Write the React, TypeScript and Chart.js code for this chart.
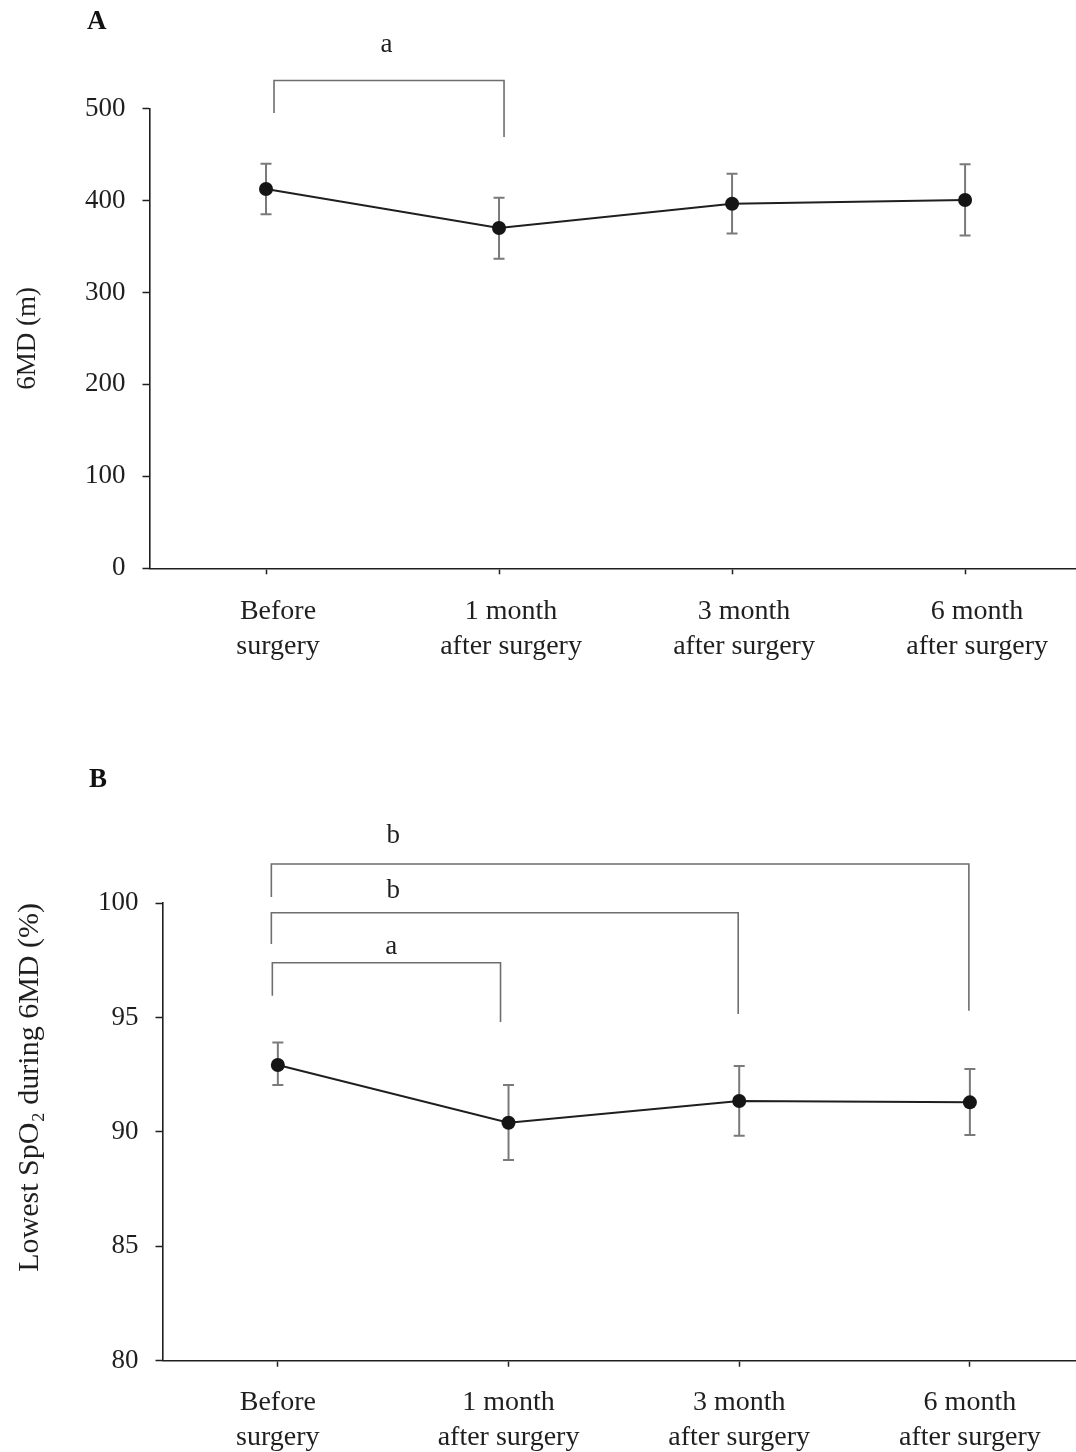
import React, { useEffect, useRef } from 'react';
import { Chart, registerables } from 'chart.js';

Chart.register(...registerables);

// ---------- data ----------
const categories: string[][] = [
  ['Before', 'surgery'],
  ['1 month', 'after surgery'],
  ['3 month', 'after surgery'],
  ['6 month', 'after surgery'],
];

const walkMean = [412.5, 370, 396.5, 400.5];
const walkUpper = [440, 403, 429, 439.5];
const walkLower = [385, 336.5, 364, 362];
const walkTicks = [0, 100, 200, 300, 400, 500];

const spo2Mean = [92.92, 90.4, 91.35, 91.29];
const spo2Upper = [93.9, 92.05, 92.88, 92.75];
const spo2Lower = [92.05, 88.77, 89.83, 89.86];
const spo2Ticks = [80, 85, 90, 95, 100];

const walkBrackets = [{ from: 0, to: 1, label: 'a' }];
const spo2Brackets = [
  { from: 0, to: 3, label: 'b' },
  { from: 0, to: 2, label: 'b' },
  { from: 0, to: 1, label: 'a' },
];

const FONT = "'Liberation Serif', 'Times New Roman', serif";
const INK = '#1f1f1f';
const GREY = '#7a7a7a';

// ---------- plugin: error bars, brackets, panel letter ----------
const annotPlugin = {
  id: 'annot',
  beforeDatasetsDraw(chart: any, _args: any, opts: any) {
    const { ctx, scales } = chart;
    const x = scales.x, y = scales.y;
    const cap = 5.5;
    ctx.save();
    ctx.strokeStyle = GREY;
    ctx.lineWidth = 2;
    (opts.upper as number[]).forEach((u, i) => {
      const px = x.getPixelForValue(i);
      const yt = y.getPixelForValue(u);
      const yb = y.getPixelForValue(opts.lower[i]);
      ctx.beginPath();
      ctx.moveTo(px, yt); ctx.lineTo(px, yb);
      ctx.moveTo(px - cap, yt); ctx.lineTo(px + cap, yt);
      ctx.moveTo(px - cap, yb); ctx.lineTo(px + cap, yb);
      ctx.stroke();
    });
    ctx.restore();
  },
  afterDraw(chart: any, _args: any, opts: any) {
    const { ctx, scales, chartArea } = chart;
    const x = scales.x;
    const top = chartArea.top;
    ctx.save();
    // brackets
    (opts.brackets as any[]).forEach((b, i) => {
      const L = opts.layout[i];
      const xl = x.getPixelForValue(b.from) + L.dxL;
      const xr = x.getPixelForValue(b.to) + L.dxR;
      const yb = top + L.bar;
      ctx.strokeStyle = '#6e6e6e';
      ctx.lineWidth = 1.6;
      ctx.beginPath();
      ctx.moveTo(xl, top + L.leftEnd);
      ctx.lineTo(xl, yb);
      ctx.lineTo(xr, yb);
      ctx.lineTo(xr, top + L.rightEnd);
      ctx.stroke();
      ctx.fillStyle = INK;
      ctx.font = `27px ${FONT}`;
      ctx.textAlign = 'center';
      ctx.textBaseline = 'middle';
      ctx.fillText(b.label, x.getPixelForValue(0.5) + L.labelDx, top + L.labelY);
    });
    // panel letter
    ctx.fillStyle = '#111';
    ctx.font = `bold 27px ${FONT}`;
    ctx.textAlign = 'left';
    ctx.textBaseline = 'middle';
    ctx.fillText(opts.letter, opts.letterX, opts.letterY);
    ctx.restore();
  },
};

function makeConfig(p: {
  mean: number[]; upper: number[]; lower: number[]; ticks: number[];
  brackets: any[]; layout: any[]; letter: string; letterX: number; letterY: number;
  title: string; titleAlign: string; titleSize: number; axisWidth: number; xMax: number;
  top: number; xHeight: number; labelOffset: number; labelPad: number;
}) {
  return {
    type: 'line',
    data: {
      datasets: [
        {
          data: p.mean.map((v, i) => ({ x: i, y: v })),
          borderColor: INK,
          borderWidth: 2,
          pointRadius: 7,
          pointBackgroundColor: '#151515',
          pointBorderWidth: 0,
          tension: 0,
        },
      ],
    },
    options: {
      responsive: false,
      animation: false,
      layout: { autoPadding: false, padding: { top: p.top, left: 0, right: 0, bottom: 0 } },
      plugins: {
        legend: { display: false },
        tooltip: { enabled: false },
        annot: {
          upper: p.upper, lower: p.lower, brackets: p.brackets, layout: p.layout,
          letter: p.letter, letterX: p.letterX, letterY: p.letterY,
        },
      },
      scales: {
        x: {
          type: 'linear',
          min: -0.5,
          max: p.xMax,
          afterBuildTicks: (s: any) => { s.ticks = categories.map((_, i) => ({ value: i })); },
          afterFit: (s: any) => { s.height = p.xHeight; },
          grid: { drawOnChartArea: false, drawTicks: true, tickLength: 6, tickColor: INK, tickWidth: 1.5 },
          border: { display: true, color: INK, width: 1.6 },
          ticks: {
            autoSkip: false, maxRotation: 0, minRotation: 0,
            padding: p.labelPad, labelOffset: p.labelOffset,
            color: INK,
            font: { family: FONT, size: 28, lineHeight: 1.25 },
            callback: (v: any) => categories[Math.round(v)],
          },
        },
        y: {
          type: 'linear',
          min: p.ticks[0],
          max: p.ticks[p.ticks.length - 1],
          afterBuildTicks: (s: any) => { s.ticks = p.ticks.map((v) => ({ value: v })); },
          afterFit: (s: any) => { s.width = p.axisWidth; },
          grid: { drawOnChartArea: false, drawTicks: true, tickLength: 7, tickColor: INK, tickWidth: 1.5 },
          border: { display: true, color: INK, width: 1.6 },
          ticks: {
            padding: 17, color: INK,
            font: { family: FONT, size: 27 },
          },
          title: {
            display: true, text: p.title, align: p.titleAlign, color: INK,
            font: { family: FONT, size: p.titleSize },
            padding: { top: 12, bottom: 0 },
          },
        },
      },
    },
    plugins: [annotPlugin],
  } as any;
}

function Panel({ config }: { config: any }) {
  const ref = useRef<HTMLCanvasElement | null>(null);
  useEffect(() => {
    if (!ref.current) return;
    const chart = new Chart(ref.current, config);
    return () => chart.destroy();
  }, [config]);
  return <canvas ref={ref} width={1076} height={726} style={{ display: 'block', width: 1076, height: 726 }} />;
}

const configA = makeConfig({
  mean: walkMean, upper: walkUpper, lower: walkLower, ticks: walkTicks,
  brackets: walkBrackets,
  layout: [{ bar: -28, leftEnd: 4.5, rightEnd: 28.5, dxL: 8, dxR: 5, labelY: -63.5, labelDx: 4 }],
  letter: 'A', letterX: 87, letterY: 22,
  title: '6MD (m)', titleAlign: 'center', titleSize: 27, axisWidth: 149.5, xMax: 3.476,
  top: 108.5, xHeight: 726 - 568.3, labelOffset: 12, labelPad: 20,
});

const configB = makeConfig({
  mean: spo2Mean, upper: spo2Upper, lower: spo2Lower, ticks: spo2Ticks,
  brackets: spo2Brackets,
  layout: [
    { bar: -39, leftEnd: -6, rightEnd: 107.7, dxL: -6.5, dxR: -1, labelY: -67, labelDx: 0 },
    { bar: 9.7, leftEnd: 41, rightEnd: 111, dxL: -6.5, dxR: -1, labelY: -12.3, labelDx: 0 },
    { bar: 59.7, leftEnd: 92.7, rightEnd: 119, dxL: -5.5, dxR: -8, labelY: 43.7, labelDx: -2 },
  ],
  letter: 'B', letterX: 89, letterY: 54,
  title: 'Lowest SpO\u2082 during 6MD (%)', titleAlign: 'end', titleSize: 30, axisWidth: 162.5, xMax: 3.46,
  top: 177, xHeight: 726 - 634.7, labelOffset: 0, labelPad: 18,
});

export default function App() {
  return (
    <div style={{ position: 'absolute', left: 0, top: 0, width: 1076, height: 1452, background: '#fff' }}>
      <Panel config={configA} />
      <Panel config={configB} />
    </div>
  );
}
